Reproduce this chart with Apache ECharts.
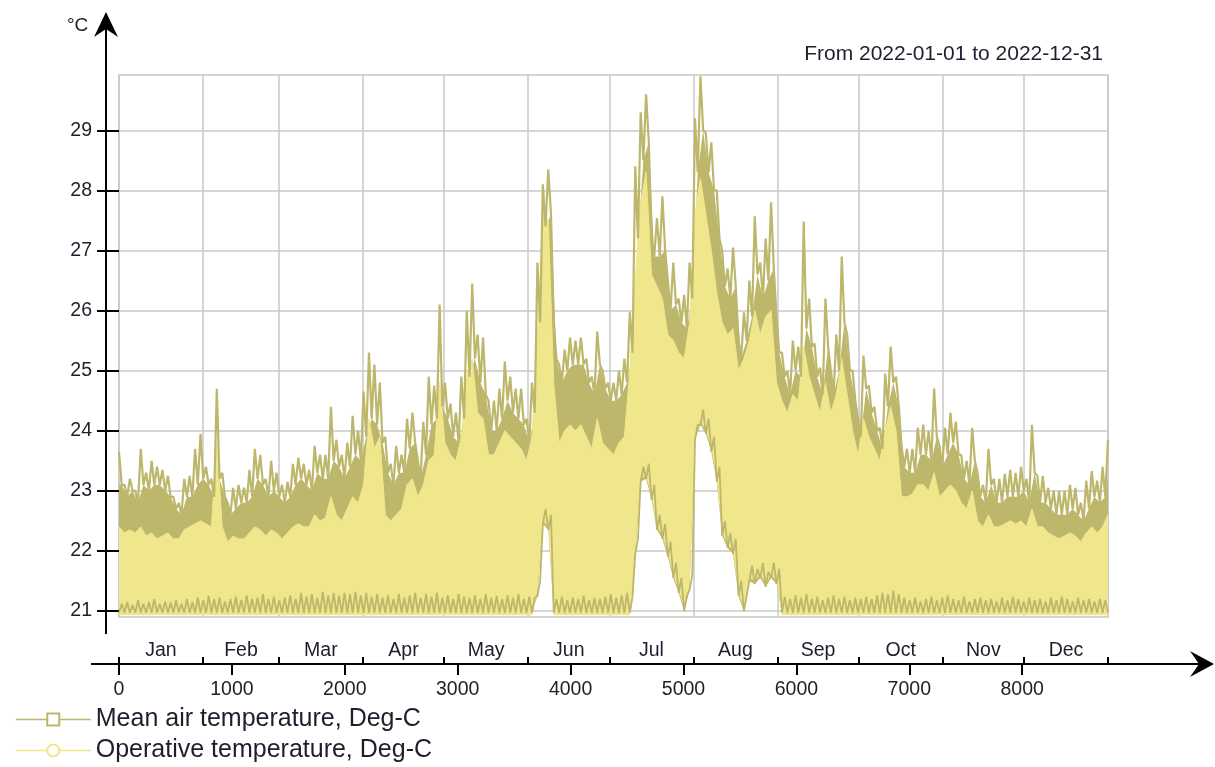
<!DOCTYPE html>
<html><head><meta charset="utf-8">
<script src="https://cdn.jsdelivr.net/npm/echarts@6/dist/echarts.min.js"></script>
<style>html,body{margin:0;padding:0;background:#fff}#c{width:1215px;height:767px}</style>
</head><body><div id="c"></div>
<script>
const meanName = 'Mean air temperature, Deg-C';
const opName = 'Operative temperature, Deg-C';
const titleText = 'From 2022-01-01 to 2022-12-31';
const unitText = '°C';

const months = ['Jan','Feb','Mar','Apr','May','Jun','Jul','Aug','Sep','Oct','Nov','Dec'];
const monthBounds = [0,744,1416,2160,2880,3624,4344,5088,5832,6552,7296,8016,8760];
const monthMids = [372,1080,1788,2520,3252,3984,4716,5460,6192,6924,7656,8388];
const xTicks = [0,1000,2000,3000,4000,5000,6000,7000,8000];
const yTicks = [21,22,23,24,25,26,27,28,29];

// samples every ~2 days (hours 0..8760)
// mean air: daily peaks
const meanHigh = [
23.65,23.1,23.2,23.0,23.7,23.3,23.5,23.4,23.35,23.25,
22.9,22.8,23.2,23.25,23.7,23.95,23.4,23.2,24.7,23.3,
22.8,23.05,23.1,23.05,23.35,23.7,23.6,23.2,23.5,23.3,
23.1,23.15,23.45,23.55,23.45,23.35,23.75,23.6,23.6,24.4,
23.85,23.6,23.8,24.25,24.0,24.65,25.3,25.1,24.8,23.9,
23.45,23.75,23.6,24.2,24.3,23.5,24.15,24.9,24.75,26.1,
24.8,24.45,24.3,24.9,26.0,26.45,25.6,25.55,24.5,24.5,
24.7,25.15,24.9,24.7,24.7,24.2,24.8,26.8,28.1,28.35,
25.8,25.1,25.35,25.55,25.5,25.55,25.2,24.9,25.65,25.0,
24.8,24.8,25.0,25.2,25.97,28.4,29.3,29.6,27.2,27.54,
27.9,26.5,26.8,26.2,26.26,26.8,29.2,29.9,28.95,28.8,
28.0,27.0,26.7,27.05,25.5,25.97,26.5,27.57,26.8,27.2,
27.8,25.9,25.3,25.0,25.5,25.4,27.48,26.2,25.45,25.05,
26.2,25.0,25.6,26.9,25.6,25.0,24.2,25.25,24.75,24.4,
24.05,24.95,25.4,24.9,23.75,23.7,23.7,24.05,24.1,24.0,
24.7,23.75,24.05,24.3,24.15,23.6,23.5,24.05,23.3,23.1,
23.7,23.2,23.2,23.28,23.35,23.3,23.4,23.2,24.1,23.25,
23.25,23.05,23.0,23.0,23.0,23.1,23.05,22.8,23.17,23.33,
23.17,23.4,23.85
];
// mean air: daytime plateau (top of the dense olive band)
const meanBody = [
23.1,22.9,23.0,22.8,23.1,23.0,23.1,23.1,23.0,22.9,
22.7,22.6,22.9,22.9,23.1,23.2,23.1,22.9,23.2,22.9,
22.6,22.7,22.8,22.8,22.9,23.2,23.1,22.9,23.0,22.9,
22.8,22.9,23.1,23.2,23.1,23.0,23.3,23.2,23.2,23.5,
23.4,23.2,23.4,23.6,23.5,23.9,24.2,24.1,23.8,23.3,
23.1,23.3,23.3,23.7,23.8,23.2,23.6,24.1,24.2,24.4,
24.2,23.9,23.8,24.2,24.9,25.2,24.8,24.6,24.0,24.0,
24.2,24.5,24.3,24.2,24.1,23.8,24.3,25.8,27.4,27.6,
25.2,24.8,25.0,25.1,25.1,25.1,24.8,24.6,25.1,24.7,
24.5,24.5,24.6,24.8,25.3,27.2,28.5,28.8,26.9,26.9,
27.0,26.0,26.1,25.8,25.7,26.2,28.3,29.0,28.3,28.0,
27.2,26.4,26.2,26.4,25.2,25.5,25.9,26.6,26.2,26.5,
26.7,25.3,24.9,24.6,25.0,24.9,25.7,25.4,24.9,24.6,
25.4,24.6,25.0,25.8,25.0,24.5,23.9,24.7,24.3,24.0,
23.7,24.4,24.8,24.4,23.4,23.3,23.3,23.6,23.6,23.5,
23.9,23.4,23.6,23.8,23.6,23.2,23.1,23.5,22.9,22.8,
23.1,22.8,22.8,22.9,22.9,22.9,23.0,22.8,23.3,22.8,
22.8,22.7,22.6,22.6,22.6,22.7,22.6,22.5,22.7,22.9,
22.8,22.9,23.2
];
// mean air: night minimum
const meanLow = [
20.97,20.97,20.97,20.97,20.97,20.97,20.97,20.97,20.97,20.97,
20.97,20.97,20.97,20.97,20.97,20.97,20.97,20.97,20.97,20.97,
20.97,20.97,20.97,20.97,20.97,20.97,20.97,20.97,20.97,20.97,
20.97,20.97,20.97,20.97,20.97,20.97,20.97,20.97,20.97,20.97,
20.97,20.97,20.97,20.97,20.97,20.97,20.97,20.97,20.97,20.97,
20.97,20.97,20.97,20.97,20.97,20.97,20.97,20.97,20.97,20.97,
20.97,20.97,20.97,20.97,20.97,20.97,20.97,20.97,20.97,20.97,
20.97,20.97,20.97,20.97,20.97,20.97,20.97,21.25,22.45,22.35,
20.97,20.97,20.97,20.97,20.97,20.97,20.97,20.97,20.97,20.97,
20.97,20.97,20.97,20.97,20.97,21.95,23.15,23.2,22.85,22.35,
22.2,21.9,21.55,21.3,21.0,21.35,23.85,24.1,23.95,23.65,
23.15,22.25,22.05,21.95,21.25,21.0,21.5,21.45,21.55,21.4,
21.55,21.45,20.97,20.97,20.97,20.97,20.97,20.97,20.97,20.97,
20.97,20.97,20.97,20.97,20.97,20.97,20.97,20.97,20.97,20.97,
20.97,20.97,20.97,20.97,20.97,20.97,20.97,20.97,20.97,20.97,
20.97,20.97,20.97,20.97,20.97,20.97,20.97,20.97,20.97,20.97,
20.97,20.97,20.97,20.97,20.97,20.97,20.97,20.97,20.97,20.97,
20.97,20.97,20.97,20.97,20.97,20.97,20.97,20.97,20.97,20.97,
20.97,20.97,20.97
];
// mean air: night level (top of the thin olive band at the bottom)
const meanNight = [
21.12,21.15,21.1,21.18,21.12,21.15,21.2,21.12,21.16,21.14,
21.18,21.12,21.2,21.15,21.22,21.18,21.25,21.2,21.22,21.16,
21.2,21.24,21.18,21.26,21.2,21.22,21.28,21.2,21.24,21.18,
21.22,21.26,21.2,21.3,21.24,21.28,21.22,21.32,21.26,21.3,
21.25,21.3,21.28,21.32,21.26,21.3,21.24,21.28,21.22,21.26,
21.2,21.28,21.22,21.26,21.3,21.22,21.28,21.24,21.3,21.22,
21.26,21.2,21.28,21.24,21.22,21.26,21.2,21.28,21.22,21.25,
21.2,21.26,21.22,21.28,21.2,21.24,21.22,21.5,22.7,22.6,
21.2,21.24,21.18,21.22,21.2,21.25,21.18,21.22,21.2,21.24,
21.28,21.22,21.26,21.3,21.24,22.2,23.4,23.45,23.1,22.6,
22.45,22.15,21.8,21.55,21.25,21.6,24.1,24.35,24.2,23.9,
23.4,22.5,22.3,22.2,21.5,21.25,21.75,21.7,21.8,21.65,
21.8,21.7,21.24,21.2,21.26,21.22,21.28,21.2,21.24,21.18,
21.22,21.26,21.2,21.24,21.18,21.22,21.2,21.24,21.2,21.26,
21.3,21.28,21.34,21.28,21.22,21.18,21.22,21.16,21.2,21.24,
21.18,21.22,21.26,21.2,21.18,21.24,21.16,21.2,21.22,21.18,
21.2,21.16,21.22,21.18,21.24,21.2,21.16,21.22,21.18,21.2,
21.16,21.22,21.18,21.24,21.2,21.16,21.22,21.18,21.2,21.16,
21.2,21.18,21.22
];
// operative: daytime top and night bottom
const opHigh = [
22.4,22.3,22.35,22.3,22.4,22.25,22.3,22.2,22.25,22.3,
22.2,22.2,22.35,22.4,22.45,22.5,22.45,22.4,23.8,22.4,
22.15,22.25,22.2,22.2,22.3,22.4,22.35,22.25,22.35,22.3,
22.2,22.3,22.4,22.45,22.4,22.4,22.6,22.5,22.55,22.9,
22.6,22.5,22.7,22.9,22.8,23.1,24.2,23.7,23.9,22.6,
22.5,22.6,22.7,23.1,23.2,22.9,23.1,23.5,23.6,24.8,
23.8,23.6,23.5,23.9,24.9,25.2,24.3,24.2,23.6,23.6,
23.8,24.0,23.9,23.8,23.7,23.5,23.9,25.5,27.6,27.5,
24.8,23.8,24.0,24.1,24.0,24.1,23.9,23.7,24.2,23.8,
23.7,23.6,23.8,23.9,25.0,26.5,27.8,28.3,26.6,26.4,
26.2,25.6,25.5,25.3,25.2,25.8,27.6,28.2,27.6,27.0,
26.3,25.8,25.6,25.7,25.0,25.2,25.5,26.0,25.6,25.9,
26.0,24.8,24.5,24.3,24.6,24.5,25.4,24.9,24.6,24.3,
24.8,24.3,24.6,25.2,24.6,24.0,23.6,24.2,23.9,23.7,
23.5,24.0,24.4,24.0,22.9,22.9,22.95,23.1,23.1,23.0,
23.3,22.9,23.0,23.1,23.0,22.8,22.7,23.0,22.5,22.4,
22.6,22.4,22.4,22.45,22.5,22.45,22.5,22.4,22.7,22.4,
22.4,22.3,22.25,22.2,22.25,22.3,22.25,22.15,22.3,22.4,
22.3,22.4,22.6
];
const opLow = [
20.93,20.93,20.93,20.93,20.93,20.93,20.93,20.93,20.93,20.93,
20.93,20.93,20.93,20.93,20.93,20.93,20.93,20.93,20.93,20.93,
20.93,20.93,20.93,20.93,20.93,20.93,20.93,20.93,20.93,20.93,
20.93,20.93,20.93,20.93,20.93,20.93,20.93,20.93,20.93,20.93,
20.93,20.93,20.93,20.93,20.93,20.93,20.93,20.93,20.93,20.93,
20.93,20.93,20.93,20.93,20.93,20.93,20.93,20.93,20.93,20.93,
20.93,20.93,20.93,20.93,20.93,20.93,20.93,20.93,20.93,20.93,
20.93,20.93,20.93,20.93,20.93,20.93,20.93,21.3,22.5,22.4,
20.93,20.93,20.93,20.93,20.93,20.93,20.93,20.93,20.93,20.93,
20.93,20.93,20.93,20.93,20.93,22.0,23.2,23.25,22.9,22.4,
22.25,21.95,21.6,21.35,21.05,21.4,23.9,24.15,24.0,23.7,
23.2,22.3,22.1,22.0,21.3,21.05,21.55,21.5,21.6,21.45,
21.6,21.5,20.93,20.93,20.93,20.93,20.93,20.93,20.93,20.93,
20.93,20.93,20.93,20.93,20.93,20.93,20.93,20.93,20.93,20.93,
20.93,20.93,20.93,20.93,20.93,20.93,20.93,20.93,20.93,20.93,
20.93,20.93,20.93,20.93,20.93,20.93,20.93,20.93,20.93,20.93,
20.93,20.93,20.93,20.93,20.93,20.93,20.93,20.93,20.93,20.93,
20.93,20.93,20.93,20.93,20.93,20.93,20.93,20.93,20.93,20.93,
20.93,20.93,20.93
];

const OLIVE = '#bdb76b', KHAKI = '#f0e68c';
const FONT = '"Liberation Sans", Arial, sans-serif';
const TXT = '#1e1e2c';
const GRIDC = '#c8c8c8';

const N = meanHigh.length;
const step = 8760 / (N - 1);
const spikeZig = [], nightZig = [], bodyTop = [], bodyBottom = [], opTop = [], opRange = [];
for (let k = 0; k < N; k++) {
  const t = k * step;
  spikeZig.push([t, meanHigh[k]]);
  nightZig.push([t, meanLow[k]]);
  if (k === 0) bodyTop.push([0, meanBody[0]]);
  if (k < N - 1) {
    spikeZig.push([t + step / 2, meanBody[k]]);
    nightZig.push([t + step / 2, meanNight[k]]);
    bodyTop.push([t + step / 2, meanBody[k]]);
  } else {
    bodyTop.push([t, meanBody[k]]);
  }
  bodyBottom.push([t, meanLow[k]]);
  opTop.push([t, opHigh[k]]);
  opRange.push([t, opLow[k], opHigh[k]]);
}

function bandPolygon(upper, lower, color) {
  return function (params, api) {
    if (params.dataIndex !== 0) return null;
    const pts = [];
    for (let i = 0; i < upper.length; i++) pts.push(api.coord(upper[i]));
    for (let i = lower.length - 1; i >= 0; i--) pts.push(api.coord(lower[i]));
    return {type: 'polygon', shape: {points: pts}, style: {fill: color, stroke: null}};
  };
}

const chart = echarts.init(document.getElementById('c'), null, {renderer: 'canvas'});
chart.setOption({
  animation: false,
  backgroundColor: '#fff',
  title: [
    {text: titleText, right: 112, top: 44, padding: 0,
     textStyle: {fontSize: 21, fontWeight: 'normal', color: TXT, fontFamily: FONT}},
    {text: unitText, left: 67, top: 16, padding: 0,
     textStyle: {fontSize: 19, fontWeight: 'normal', color: TXT, fontFamily: FONT}}
  ],
  grid: {left: 119, right: 107, top: 75, bottom: 150, show: true,
         borderColor: GRIDC, borderWidth: 1.5, containLabel: false},
  legend: {
    data: [meanName, opName], orient: 'vertical', left: 15, top: 707, padding: 0,
    itemWidth: 75, itemHeight: 15, itemGap: 6,
    lineStyle: {width: 1.5},
    textStyle: {fontSize: 25, color: TXT, fontFamily: FONT}
  },
  xAxis: [
    {type: 'value', min: 0, max: 8760, position: 'bottom', offset: 47, z: 0,
     axisLine: {show: false},
     axisTick: {show: true, inside: false, length: 11, customValues: xTicks,
                lineStyle: {color: '#000', width: 2}},
     axisLabel: {customValues: xTicks, margin: 16, fontSize: 19.5, color: TXT, fontFamily: FONT,
                 formatter: v => String(v)},
     splitLine: {show: false}},
    {type: 'value', min: 0, max: 8760, position: 'bottom', offset: 47, z: 0,
     axisLine: {show: false},
     axisTick: {show: true, inside: true, length: 7, customValues: monthBounds,
                lineStyle: {color: '#000', width: 2}},
     axisLabel: {inside: true, customValues: monthMids, margin: 3, fontSize: 19.5,
                 color: TXT, fontFamily: FONT,
                 formatter: v => months[monthMids.indexOf(Math.round(v))] || ''},
     splitLine: {show: true, lineStyle: {color: GRIDC, width: 1.5}}}
  ],
  yAxis: [
    {type: 'value', min: 20.9, max: 29.92, position: 'left', offset: 1, z: 0,
     axisLine: {show: false},
     axisTick: {show: true, inside: false, length: 22, customValues: yTicks,
                lineStyle: {color: '#000', width: 2}},
     axisLabel: {customValues: yTicks, margin: 26, fontSize: 19.5, color: TXT, fontFamily: FONT},
     splitLine: {show: true, lineStyle: {color: GRIDC, width: 1.5}}}
  ],
  series: [
    {type: 'line', name: meanName, data: spikeZig, zlevel: 1, z: 4,
     symbol: 'emptyRect', showSymbol: false, silent: true,
     lineStyle: {color: OLIVE, width: 2.2, join: 'bevel'}, itemStyle: {color: OLIVE}},
    {type: 'custom', name: meanName, data: bodyBottom, zlevel: 1, z: 2, silent: true, clip: true,
     renderItem: bandPolygon(bodyTop, bodyBottom, OLIVE)},
    {type: 'line', name: opName, data: opTop, zlevel: 1, z: 3,
     symbol: 'emptyCircle', showSymbol: false, silent: true,
     lineStyle: {color: KHAKI, width: 1}, itemStyle: {color: KHAKI}},
    {type: 'custom', name: opName, data: opRange, zlevel: 1, z: 3, silent: true, clip: true,
     encode: {x: 0, y: [1, 2]},
     renderItem: bandPolygon(opRange.map(d => [d[0], d[2]]), opRange.map(d => [d[0], d[1]]), KHAKI)},
    {type: 'line', name: meanName, data: nightZig, zlevel: 1, z: 5,
     symbol: 'emptyRect', showSymbol: false, silent: true,
     lineStyle: {color: OLIVE, width: 1.8, join: 'bevel'}, itemStyle: {color: OLIVE}}
  ],
  graphic: [
    {type: 'line', z: 10, shape: {x1: 106, y1: 634, x2: 106, y2: 24}, style: {stroke: '#000', lineWidth: 2}},
    {type: 'polygon', z: 10, shape: {points: [[106,12],[94,37],[106,29],[118,37]]}, style: {fill: '#000'}},
    {type: 'line', z: 10, shape: {x1: 91, y1: 664, x2: 1204, y2: 664}, style: {stroke: '#000', lineWidth: 2}},
    {type: 'polygon', z: 10, shape: {points: [[1214,664],[1190,651],[1199,664],[1190,677]]}, style: {fill: '#000'}}
  ]
});
</script></body></html>
